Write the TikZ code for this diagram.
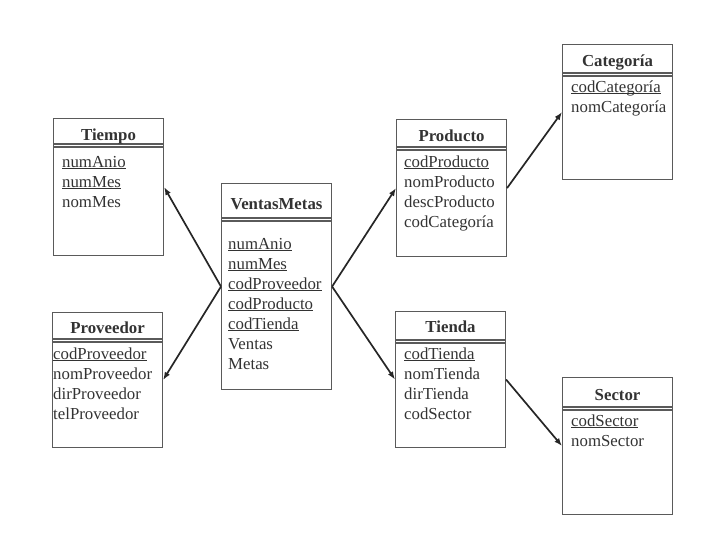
\documentclass[tikz,border=0pt]{standalone}
\usepackage{fontspec}
\setmainfont{Liberation Serif}
\usetikzlibrary{positioning,arrows.meta,calc}
\definecolor{ink}{HTML}{333333}
\definecolor{boxgray}{HTML}{5A5A5A}
\newcommand{\pkattr}[1]{\underline{\smash{#1}}}
\tikzset{
  entity/.style={draw=boxgray, line width=1.1pt, anchor=north west, minimum width=110pt, inner sep=0pt},
  sepline/.style={draw=boxgray, line width=1.1pt},
  ttl/.style={anchor=base, inner sep=0pt, text=ink, font=\fontsize{16.8}{20}\selectfont\bfseries},
  attrs/.style={anchor=north west, inner sep=0pt, align=left, text=ink, font=\fontsize{16.8}{20}\selectfont},
  link/.style={-{Latex[length=8pt,width=6pt]}, line width=1.7pt, draw=black!85}
}
\begin{document}
\begin{tikzpicture}[x=1pt,y=-1pt]
       \useasboundingbox (0,0) rectangle (705,547);
       \foreach \n/\x/\y/\h/\hd/\tb/\t in {tiempo/53/118/137/26/22/Tiempo, proveedor/52/312/135/27/21/Proveedor, ventas/221/183/206/35/26/VentasMetas, producto/396/119/137/28/22/Producto, categoria/562/44/135/29/22/Categoría, tienda/395/311/136/29/21/Tienda, sector/562/377/137/30/23/Sector}{
         \node[entity, minimum height=\h pt] (\n) at (\x,\y) {};
         \draw[sepline] ($(\n.north west)+(0,\hd)$) -- ($(\n.north east)+(0,\hd)$);
         \draw[sepline] ($(\n.north west)+(0,\hd+3)$) -- ($(\n.north east)+(0,\hd+3)$);
         \node[ttl] (\n-title) at ($(\n.north)+(0,\tb)$) {\t};
       }
       \node[attrs] (tiempo-attr) at ($(tiempo.north west)+(9,35)$) {\strut\pkattr{numAnio}\\ \pkattr{numMes}\\ nomMes};
       \node[attrs] (proveedor-attr) at ($(proveedor.north west)+(1,33)$) {\strut\pkattr{codProveedor}\\ nomProveedor\\ dirProveedor\\ telProveedor};
       \node[attrs] (ventas-attr) at ($(ventas.north west)+(7,52)$) {\strut\pkattr{numAnio}\\ \pkattr{numMes}\\ \pkattr{codProveedor}\\ \pkattr{codProducto}\\ \pkattr{codTienda}\\ Ventas\\ Metas};
       \node[attrs] (producto-attr) at ($(producto.north west)+(8,34)$) {\strut\pkattr{codProducto}\\ nomProducto\\ descProducto\\ codCategoría};
       \node[attrs] (categoria-attr) at ($(categoria.north west)+(9,34)$) {\strut\pkattr{codCategoría}\\ nomCategoría};
       \node[attrs] (tienda-attr) at ($(tienda.north west)+(9,34)$) {\strut\pkattr{codTienda}\\ nomTienda\\ dirTienda\\ codSector};
       \node[attrs] (sector-attr) at ($(sector.north west)+(9,35)$) {\strut\pkattr{codSector}\\ nomSector};
       \draw[link] (ventas.west) -- (tiempo.east);
       \draw[link] (ventas.west) -- (proveedor.east);
       \draw[link] (ventas.east) -- (producto.west);
       \draw[link] (ventas.east) -- (tienda.west);
       \draw[link] (producto.east) -- (categoria.west);
       \draw[link] (tienda.east) -- (sector.west);
\end{tikzpicture}
\end{document}
